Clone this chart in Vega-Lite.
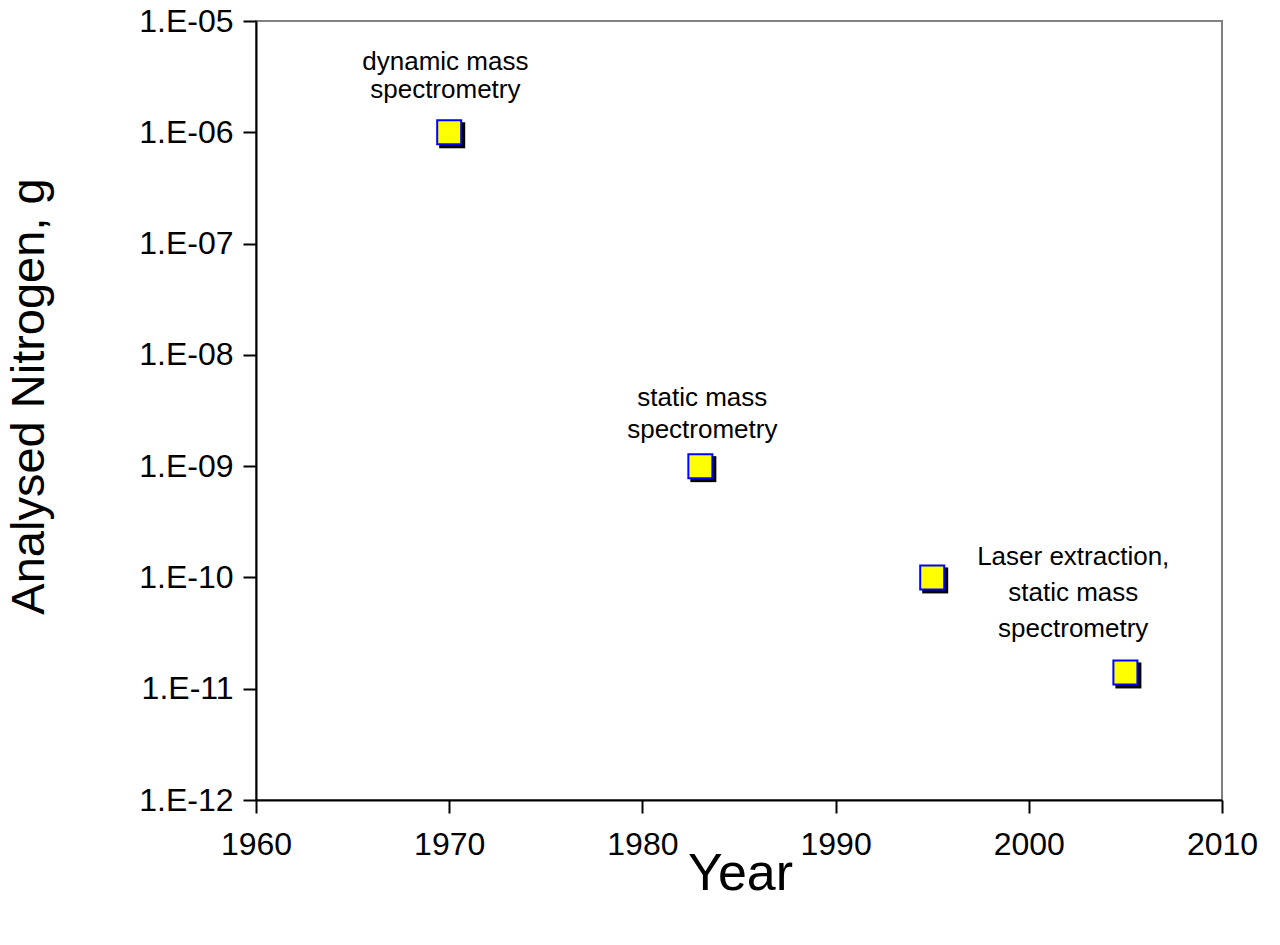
{
  "$schema": "https://vega.github.io/schema/vega-lite/v6.json",
  "width": 966,
  "height": 779,
  "autosize": "none",
  "padding": {"left": 256, "top": 21, "right": 58, "bottom": 145},
  "background": "white",
  "config": {
    "font": "Liberation Sans",
    "view": {"stroke": "#808080", "strokeWidth": 2},
    "axis": {"grid": false, "labelFlush": false, "labelOverlap": false, "domainColor": "black", "domainWidth": 2, "tickColor": "black", "tickWidth": 2, "tickSize": 13, "labelColor": "black", "titleColor": "black", "labelFont": "Liberation Sans", "titleFont": "Liberation Sans", "labelFontSize": 32, "titleFontSize": 47, "titleFontWeight": "normal"}
  },
  "datasets": {
    "points": [
      {"year": 1970, "nitrogen": 1e-6},
      {"year": 1983, "nitrogen": 1e-9},
      {"year": 1995, "nitrogen": 1e-10},
      {"year": 2005, "nitrogen": 1.4e-11}
    ],
    "notes": [
      {"year": 1969.8, "nitrogen": 4.28e-6, "lines": ["dynamic mass", "spectrometry"], "kind": "a"},
      {"year": 1983.1, "nitrogen": 4.1e-9, "lines": ["static mass", "spectrometry"], "kind": "b"},
      {"year": 2002.3, "nitrogen": 1.53e-10, "lines": ["Laser extraction,", "static mass", "spectrometry"], "kind": "c"}
    ]
  },
  "layer": [
    {
      "data": {"name": "points"},
      "mark": {"type": "point", "shape": "square", "filled": true, "color": "black", "size": 676, "opacity": 1, "xOffset": 3, "yOffset": 3},
      "encoding": {
        "x": {"field": "year", "type": "quantitative", "scale": {"domain": [1960, 2010], "nice": false, "zero": false}, "axis": {"values": [1960, 1970, 1980, 1990, 2000, 2010], "format": "d", "title": "Year", "labelPadding": 16, "titleFontSize": 52, "titleX": 484, "titleY": 89, "titleBaseline": "alphabetic", "titleAlign": "center"}},
        "y": {"field": "nitrogen", "type": "quantitative", "scale": {"type": "log", "domain": [1e-12, 1e-5], "nice": false}, "axis": {"values": [1e-12, 1e-11, 1e-10, 1e-9, 1e-8, 1e-7, 1e-6, 1e-5], "labelExpr": "'1.E-' + (round(-log(datum.value)/LN10) < 10 ? '0' : '') + round(-log(datum.value)/LN10)", "title": "Analysed Nitrogen, g", "labelPadding": 10, "titleX": -213, "titleY": 375, "titleAngle": -90, "titleBaseline": "alphabetic", "titleAlign": "center"}}
      }
    },
    {
      "data": {"name": "points"},
      "mark": {"type": "point", "shape": "square", "filled": true, "fill": "#FFFF00", "stroke": "#0000FF", "strokeWidth": 2, "size": 576, "opacity": 1},
      "encoding": {
        "x": {"field": "year", "type": "quantitative"},
        "y": {"field": "nitrogen", "type": "quantitative"}
      }
    },
    {
      "data": {"name": "notes"},
      "transform": [{"filter": "datum.kind == 'a'"}],
      "mark": {"type": "text", "fontSize": 26, "lineHeight": 28, "align": "center", "baseline": "middle", "color": "black", "font": "Liberation Sans"},
      "encoding": {
        "x": {"field": "year", "type": "quantitative"},
        "y": {"field": "nitrogen", "type": "quantitative"},
        "text": {"field": "lines"}
      }
    },
    {
      "data": {"name": "notes"},
      "transform": [{"filter": "datum.kind == 'b'"}],
      "mark": {"type": "text", "fontSize": 26, "lineHeight": 32, "align": "center", "baseline": "middle", "color": "black", "font": "Liberation Sans"},
      "encoding": {
        "x": {"field": "year", "type": "quantitative"},
        "y": {"field": "nitrogen", "type": "quantitative"},
        "text": {"field": "lines"}
      }
    },
    {
      "data": {"name": "notes"},
      "transform": [{"filter": "datum.kind == 'c'"}],
      "mark": {"type": "text", "fontSize": 26, "lineHeight": 36, "align": "center", "baseline": "middle", "color": "black", "font": "Liberation Sans"},
      "encoding": {
        "x": {"field": "year", "type": "quantitative"},
        "y": {"field": "nitrogen", "type": "quantitative"},
        "text": {"field": "lines"}
      }
    }
  ]
}
